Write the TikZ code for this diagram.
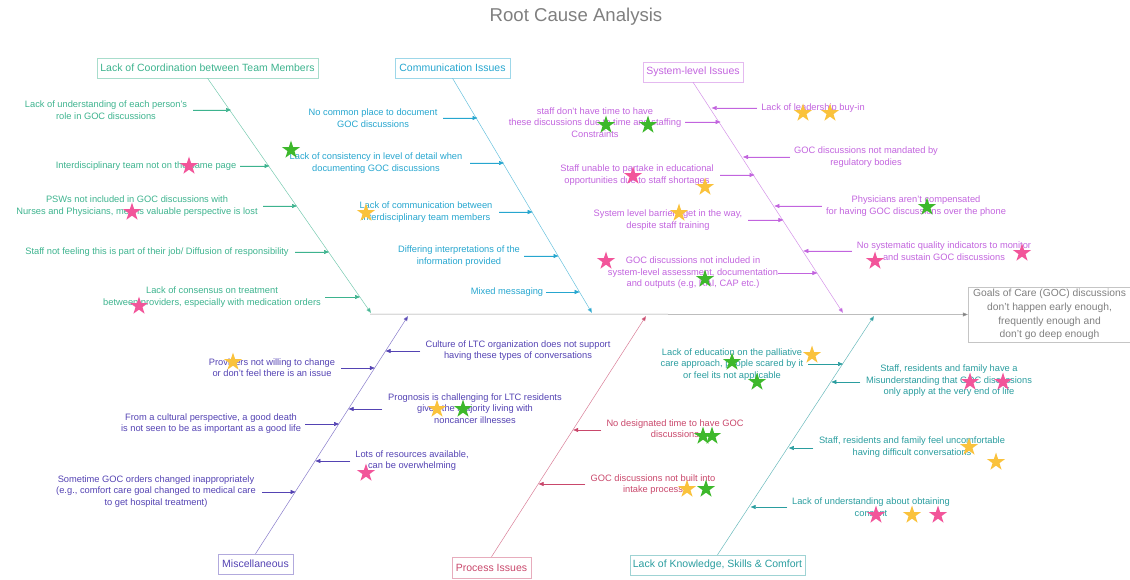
\documentclass[tikz,border=0pt]{standalone}
\usepackage{fontspec}
\setmainfont{Liberation Sans}
\usetikzlibrary{arrows.meta,shapes.geometric}
\definecolor{cCoord}{HTML}{3DB38E}
\definecolor{cComm}{HTML}{26A6CF}
\definecolor{cSys}{HTML}{C264DE}
\definecolor{cMisc}{HTML}{5443B3}
\definecolor{cProc}{HTML}{C9476B}
\definecolor{cKnow}{HTML}{2A9D9F}
\definecolor{cGray}{HTML}{7F7F7F}
\definecolor{cPink}{HTML}{F2559A}
\definecolor{cYellow}{HTML}{FAC23C}
\definecolor{cGreen}{HTML}{3DB82B}
\tikzset{
  txt/.style={align=center,font=\fontsize{9.3}{11.5}\selectfont,inner sep=0pt},
  catbox/.style={draw=#1!45!white,text=#1,inner sep=0pt,font=\fontsize{10.5}{12}\selectfont},
  arr/.style={-{Triangle[length=5pt,width=4pt]},line width=0.5pt},
  bone/.style={arr,draw=#1!70!white,-{Triangle[length=5pt,width=4pt,fill=#1]}},
  starshape/.style={star,star points=5,star point ratio=2.6,minimum size=19pt,inner sep=0pt,draw=none,fill=#1},
  pk/.style={starshape=cPink},
  yw/.style={starshape=cYellow},
  gn/.style={starshape=cGreen}
}
\begin{document}
\begin{tikzpicture}[x=1pt,y=-1pt]
\useasboundingbox (0,0) rectangle (1130,580);

% title
\node[font=\fontsize{18.6}{20}\selectfont,text=cGray] (title) at (576,17) {Root Cause Analysis};

% effect
\node[draw=cGray!45!white,text=cGray,align=center,font=\fontsize{10.3}{13.7}\selectfont,
      minimum width=163pt,minimum height=55pt,inner sep=0pt] (goal) at (1049.5,314.5)
  {Goals of Care (GOC) discussions\\don't happen early enough,\\frequently enough and\\don't go deep enough};
\coordinate (sp0) at (370,314);
\draw[arr,draw=cGray!80!white,-{Triangle[length=5pt,width=4pt,fill=cGray]}] (sp0) -- (goal.west);

% category boxes
\node[catbox=cCoord,minimum width=221pt,minimum height=20pt] (k1) at (207.5,68) {Lack of Coordination between Team Members};
\node[catbox=cComm,minimum width=115pt,minimum height=20pt] (k2) at (452.5,68) {Communication Issues};
\node[catbox=cSys,minimum width=100pt,minimum height=20pt] (k3) at (693,72) {System-level Issues};
\node[catbox=cMisc,minimum width=75pt,minimum height=20pt] (k4) at (255.5,564) {Miscellaneous};
\node[catbox=cProc,minimum width=79pt,minimum height=21pt] (k5) at (491.5,567.5) {Process Issues};
\node[catbox=cKnow,minimum width=175pt,minimum height=20pt] (k6) at (717.5,565) {Lack of Knowledge, Skills \& Comfort};

% bone ends on spine
\coordinate (b1) at (371,313);
\coordinate (b2) at (592,313);
\coordinate (b3) at (843,313);
\coordinate (b4) at (408,316);
\coordinate (b5) at (646,316);
\coordinate (b6) at (874,316);
\draw[bone=cCoord] (k1.south) -- (b1);
\draw[bone=cComm] (k2.south) -- (b2);
\draw[bone=cSys] (k3.south) -- (b3);
\draw[bone=cMisc] (k4.north) -- (b4);
\draw[bone=cProc] (k5.north) -- (b5);
\draw[bone=cKnow] (k6.north) -- (b6);

% ---------- Coordination causes
\begin{scope}[every node/.style={txt,text=cCoord},draw=cCoord]
\node (n11) at (106,110) {Lack of understanding of each person's\\role in GOC discussions};
\node (n12) at (146,166) {Interdisciplinary team not on the same page};
\node (n13) at (137,206) {PSWs not included in GOC discussions with\\Nurses and Physicians, means valuable perspective is lost};
\node (n14) at (157,252) {Staff not feeling this is part of their job/ Diffusion of responsibility};
\node (n15) at (212,297) {Lack of consensus on treatment\\between providers, especially with medication orders};
\coordinate (a11) at (193,110); \coordinate (e11) at (231,110);
\coordinate (a12) at (240,166); \coordinate (e12) at (269.5,166);
\coordinate (a13) at (263,206); \coordinate (e13) at (297,206);
\coordinate (a14) at (295,252); \coordinate (e14) at (329,252);
\coordinate (a15) at (325,297); \coordinate (e15) at (360,297);
\draw[arr,fill=cCoord] (a11) -- (e11);
\draw[arr,fill=cCoord] (a12) -- (e12);
\draw[arr,fill=cCoord] (a13) -- (e13);
\draw[arr,fill=cCoord] (a14) -- (e14);
\draw[arr,fill=cCoord] (a15) -- (e15);
\end{scope}

% ---------- Communication causes
\begin{scope}[every node/.style={txt,text=cComm},draw=cComm]
\node (n21) at (373,118) {No common place to document\\GOC discussions};
\node (n22) at (376,163) {Lack of consistency in level of detail when\\documenting GOC discussions};
\node (n23) at (426,212) {Lack of communication between\\interdisciplinary team members};
\node (n24) at (459,256) {Differing interpretations of the\\information provided};
\node (n25) at (507,292) {Mixed messaging};
\coordinate (a21) at (443,118); \coordinate (e21) at (477.5,118);
\coordinate (a22) at (470,163); \coordinate (e22) at (504,163);
\coordinate (a23) at (499,212); \coordinate (e23) at (532.7,212);
\coordinate (a24) at (524,256); \coordinate (e24) at (558.5,256);
\coordinate (a25) at (546,292); \coordinate (e25) at (579.6,292);
\draw[arr,fill=cComm] (a21) -- (e21);
\draw[arr,fill=cComm] (a22) -- (e22);
\draw[arr,fill=cComm] (a23) -- (e23);
\draw[arr,fill=cComm] (a24) -- (e24);
\draw[arr,fill=cComm] (a25) -- (e25);
\end{scope}

% ---------- System-level causes
\begin{scope}[every node/.style={txt,text=cSys},draw=cSys]
\node (n31) at (595,122.5) {staff don't have time to have\\these discussions due to time and staffing\\Constraints};
\node (n32) at (637,175) {Staff unable to partake in educational\\opportunities due to staff shortages};
\node (n33) at (668,220) {System level barriers get in the way,\\despite staff training};
\node (n34) at (693,273) {GOC discussions not included in\\system-level assessment, documentation\\and outputs (e.g, RAI, CAP etc.)};
\node (n35) at (813,108) {Lack of leadership buy-in};
\node (n36) at (866,157) {GOC discussions not mandated by\\regulatory bodies};
\node (n37) at (916,206) {Physicians aren't compensated\\for having GOC discussions over the phone};
\node (n38) at (944,251) {No systematic quality indicators to monitor\\and sustain GOC discussions};
\coordinate (a31) at (685,122); \coordinate (e31) at (720.6,122);
\coordinate (a32) at (720,175); \coordinate (e32) at (754.6,175);
\coordinate (a33) at (748,220); \coordinate (e33) at (783.4,220);
\coordinate (a34) at (778,273); \coordinate (e34) at (817.4,273);
\coordinate (a35) at (757,108); \coordinate (e35) at (711.7,108);
\coordinate (a36) at (790,157); \coordinate (e36) at (743,157);
\coordinate (a37) at (822,206); \coordinate (e37) at (774.4,206);
\coordinate (a38) at (852,251); \coordinate (e38) at (803.3,251);
\foreach \i in {1,...,8} {\draw[arr,fill=cSys] (a3\i) -- (e3\i);}
\end{scope}

% ---------- Miscellaneous causes
\begin{scope}[every node/.style={txt,text=cMisc},draw=cMisc]
\node (n41) at (518,350.5) {Culture of LTC organization does not support\\having these types of conversations};
\node (n42) at (272,367.5) {Providers not willing to change\\or don't feel there is an issue};
\node (n43) at (475,408.5) {Prognosis is challenging for LTC residents\\given the majority living with\\noncancer illnesses};
\node (n44) at (211,423.5) {From a cultural perspective, a good death\\is not seen to be as important as a good life};
\node (n45) at (412,460.5) {Lots of resources available,\\can be overwhelming};
\node (n46) at (156,491.5) {Sometime GOC orders changed inappropriately\\(e.g., comfort care goal changed to medical care\\to get hospital treatment)};
\coordinate (a41) at (420,351); \coordinate (e41) at (385.6,351);
\coordinate (a42) at (341,368); \coordinate (e42) at (374.8,368);
\coordinate (a43) at (382,409); \coordinate (e43) at (348.6,409);
\coordinate (a44) at (305,424); \coordinate (e44) at (339,424);
\coordinate (a45) at (350,461); \coordinate (e45) at (315.4,461);
\coordinate (a46) at (262,492); \coordinate (e46) at (295.6,492);
\foreach \i in {1,...,6} {\draw[arr,fill=cMisc] (a4\i) -- (e4\i);}
\end{scope}

% ---------- Process causes
\begin{scope}[every node/.style={txt,text=cProc},draw=cProc]
\node (n51) at (675,428.5) {No designated time to have GOC\\discussions};
\node (n52) at (653,484.5) {GOC discussions not built into\\intake process};
\coordinate (a51) at (601,430); \coordinate (e51) at (573.2,430);
\coordinate (a52) at (585,484); \coordinate (e52) at (538.6,484);
\draw[arr,fill=cProc] (a51) -- (e51);
\draw[arr,fill=cProc] (a52) -- (e52);
\end{scope}

% ---------- Knowledge causes
\begin{scope}[every node/.style={txt,text=cKnow},draw=cKnow]
\node (n61) at (732,364.5) {Lack of education on the palliative\\care approach, people scared by it\\or feel its not applicable};
\node (n62) at (949,381) {Staff, residents and family have a\\Misunderstanding that GOC discussions\\only apply at the very end of life};
\node (n63) at (912,447) {Staff, residents and family feel uncomfortable\\having difficult conversations};
\node (n64) at (871,507) {Lack of understanding about obtaining\\consent};
\coordinate (a61) at (808,364); \coordinate (e61) at (843,364);
\coordinate (a62) at (860,382); \coordinate (e62) at (831.4,382);
\coordinate (a63) at (813,448); \coordinate (e63) at (788.8,448);
\coordinate (a64) at (787,507); \coordinate (e64) at (750.7,507);
\foreach \i in {1,...,4} {\draw[arr,fill=cKnow] (a6\i) -- (e6\i);}
\end{scope}

% ---------- stars
\node[gn] (s1) at (291,150) {};
\node[pk] (s2) at (189,166) {};
\node[pk] (s3) at (132,212) {};
\node[pk] (s4) at (139,306) {};
\node[yw] (s5) at (366,213) {};
\node[gn] (s6) at (606,125) {};
\node[gn] (s7) at (648,125) {};
\node[pk] (s8) at (633,176) {};
\node[yw] (s9) at (705,187) {};
\node[yw] (s10) at (679,213) {};
\node[pk] (s11) at (606,261) {};
\node[gn] (s12) at (705,279) {};
\node[yw] (s13) at (803,113) {};
\node[yw] (s14) at (830,113) {};
\node[gn] (s15) at (927,207) {};
\node[pk] (s16) at (875,261) {};
\node[pk] (s17) at (1022,253) {};
\node[yw] (s18) at (233,362) {};
\node[yw] (s19) at (437,409) {};
\node[gn] (s20) at (463,409) {};
\node[pk] (s21) at (366,473) {};
\node[gn] (s22) at (703,436) {};
\node[gn] (s23) at (712,436) {};
\node[yw] (s24) at (687,489) {};
\node[gn] (s25) at (706,489) {};
\node[yw] (s26) at (812,355) {};
\node[gn] (s27) at (732,362) {};
\node[gn] (s28) at (757,382) {};
\node[pk] (s29) at (970,382) {};
\node[pk] (s30) at (1003,382) {};
\node[yw] (s31) at (969,447) {};
\node[yw] (s32) at (996,462) {};
\node[pk] (s33) at (876,515) {};
\node[yw] (s34) at (912,515) {};
\node[pk] (s35) at (938,515) {};
\end{tikzpicture}
\end{document}
